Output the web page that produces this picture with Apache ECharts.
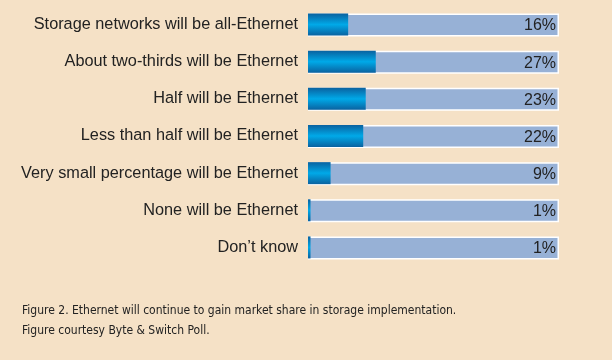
<!DOCTYPE html>
<html><head><meta charset="utf-8">
<script src="https://cdn.jsdelivr.net/npm/echarts@6/dist/echarts.min.js"></script>
<style>html,body{margin:0;padding:0;background:#f5e1c6;}#c{width:612px;height:360px;}</style>
</head><body><div id="c"></div>
<script>
const categories = ["Storage networks will be all-Ethernet","About two-thirds will be Ethernet","Half will be Ethernet","Less than half will be Ethernet","Very small percentage will be Ethernet","None will be Ethernet","Don\u2019t know"];
const values = [16,27,23,22,9,1,1];
const trackValues = [100,100,100,100,100,100,100];
const caption = ["Figure 2. Ethernet will continue to gain market share in storage implementation.","Figure courtesy Byte & Switch Poll."];

const chart = echarts.init(document.getElementById('c'));
const grad = new echarts.graphic.LinearGradient(0,0,0,1,[
  {offset:0,color:'#0a62a0'},{offset:0.5,color:'#00a9e8'},{offset:1,color:'#0a62a0'}]);
chart.setOption({
  backgroundColor:'#f5e1c6',
  animation:false,
  grid:{left:308,right:53,top:6,height:260},
  xAxis:{type:'value',min:0,max:100,show:false},
  yAxis:{type:'category',data:categories,inverse:true,
    axisLine:{show:false},axisTick:{show:false},
    axisLabel:{fontFamily:'Liberation Sans, Arial, sans-serif',fontSize:16.3,color:'#222',margin:10}},
  series:[
    {type:'bar',data:trackValues,barWidth:23,barGap:'-100%',silent:true,z:1,
     itemStyle:{color:'#97b1d6',borderColor:'#ffffff',borderWidth:1.5},
     label:{show:true,position:'insideRight',offset:[2,1],fontFamily:'Liberation Sans, Arial, sans-serif',fontSize:16,color:'#222',
       formatter:p=>values[p.dataIndex]+'%'}},
    {type:'bar',data:values,barWidth:22,z:2,
     itemStyle:{color:grad}}
  ],
  graphic:[
    {type:'text',left:22,top:301,style:{text:caption.join('\n'),fontFamily:'DejaVu Sans Condensed, DejaVu Sans, sans-serif',fontSize:12,lineHeight:20,fill:'#222'}}
  ]
});
</script></body></html>
